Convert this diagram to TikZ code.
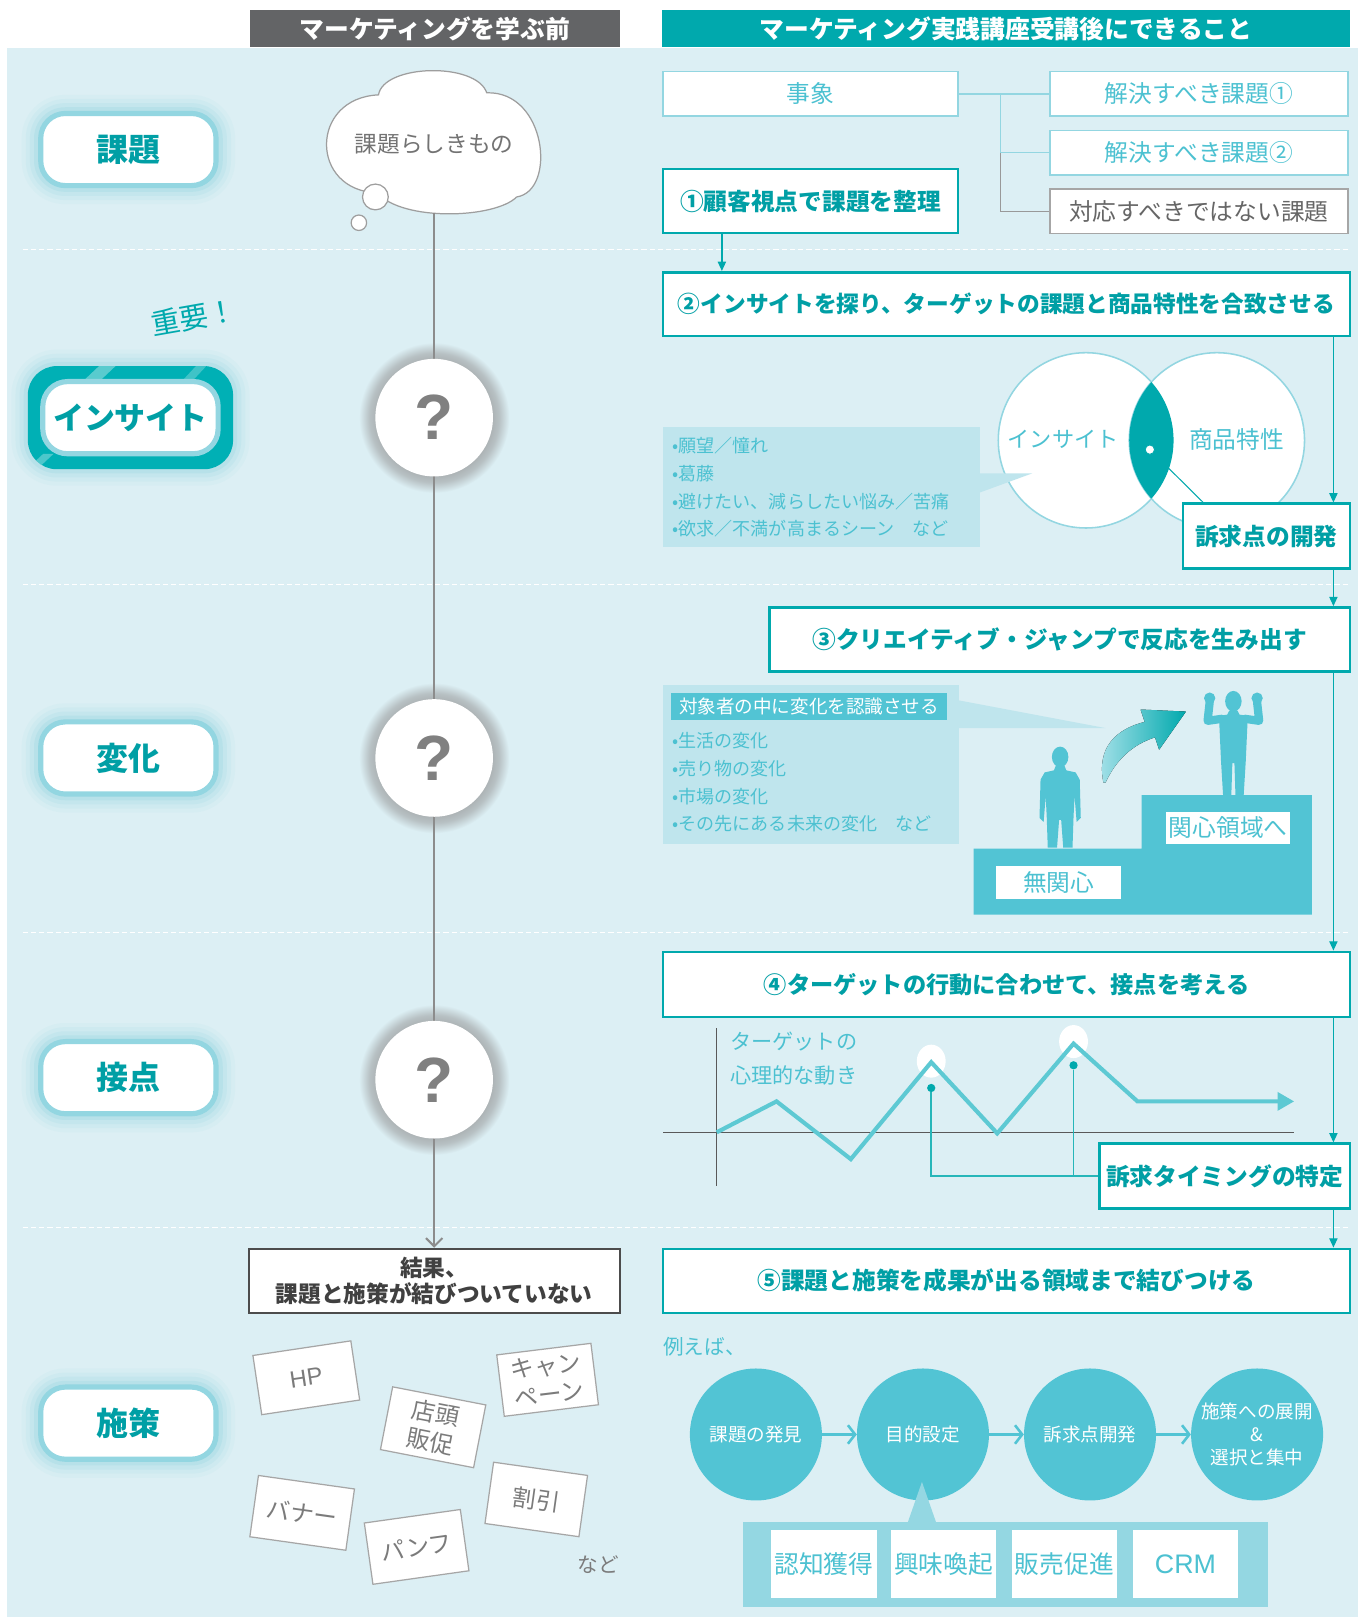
\documentclass[tikz,border=0pt]{standalone}
\usepackage{fontspec}
\setmainfont{Noto Sans CJK JP}
\newfontfamily\latinfont{Liberation Sans}
\usetikzlibrary{arrows.meta,calc}

\definecolor{mkbg}{HTML}{DCEFF4}
\definecolor{mkteal}{HTML}{00A9AD}
\definecolor{mkframe}{HTML}{00B0B5}
\definecolor{mktealtxt}{HTML}{009FA5}
\definecolor{mkcyan}{HTML}{52C4D4}
\definecolor{mkcyantxt}{HTML}{4CC1D1}
\definecolor{mkzig}{HTML}{5DC9D3}
\definecolor{mkline}{HTML}{93D6E1}
\definecolor{mkinfo}{HTML}{BFE5ED}
\definecolor{mkpanel}{HTML}{94D7E2}
\definecolor{mkdark}{HTML}{636466}
\definecolor{mkgray}{HTML}{7B7B7B}
\definecolor{mkring}{HTML}{ABB1B3}
\definecolor{mkglow}{HTML}{6FCBD8}

\newcommand\fsz[2]{\fontsize{#1}{#2}\selectfont}

% soft ring around the question marks
\pgfdeclareradialshading{qring}{\pgfpoint{0bp}{0bp}}{%
  color(0bp)=(mkring); color(19bp)=(mkring); color(21.5bp)=(mkring!75!mkbg);
  color(25bp)=(mkbg); color(50bp)=(mkbg)}

% halo behind the rounded labels of the left column
\newcommand\glowrect[5]{%
  \foreach \g/\o in {16/0.05,12/0.07,8/0.1,4/0.15}{%
    \pgfmathsetmacro\rr{#5+\g}%
    \fill[mkglow, opacity=\o, rounded corners=\rr pt] (#1-\g,#2-\g) rectangle (#3+\g,#4+\g);
  }}

\begin{document}
\begin{tikzpicture}[x=1pt,y=-1pt,
  hdr/.style={minimum height=36pt, inner sep=0pt, text=white, font=\bfseries\fsz{24}{28}},
  labelbox/.style={draw=mkline, line width=5pt, fill=white, rounded corners=24pt,
    minimum width=170pt, minimum height=70pt, inner sep=0pt, text=mktealtxt, font=\bfseries\fsz{31}{36}},
  stepbox/.style={draw=mkteal, line width=2.5pt, fill=white, inner sep=0pt,
    text=mktealtxt, font=\bfseries\fsz{23}{27}},
  litebox/.style={draw=mkline, line width=1.5pt, fill=white, inner sep=0pt,
    minimum height=43pt, text=mkcyantxt, font=\fsz{23}{27}},
  card/.style={draw=black!35, line width=1.2pt, fill=white, inner sep=0pt,
    text=mkgray, font=\fsz{23}{28}, align=center},
  qnode/.style={circle, fill=white, minimum size=114pt, inner sep=0pt,
    text=black!50, font=\latinfont\bfseries\fsz{62}{62}},
  flow/.style={draw=mkteal, line width=1.2pt, -{Triangle[length=9pt,width=8pt]}},
  bulletline/.style={anchor=west, inner sep=0pt, text=mkcyantxt, font=\fsz{17.5}{20}},
  stepcircle/.style={circle, fill=mkcyan, minimum size=128pt, inner sep=0pt,
    text=white, font=\fsz{18}{22}, align=center},
  chip/.style={fill=white, minimum width=102pt, minimum height=66pt, inner sep=0pt,
    text=mkcyantxt, font=\fsz{24}{28}},
  carrow/.style={draw=mkcyan, line width=2.5pt, -{Straight Barb[length=7pt,width=18pt]}},
  stairlabel/.style={fill=white, inner sep=0pt, text=mkcyantxt, font=\fsz{23}{27}},
]
\useasboundingbox (0,0) rectangle (1317,1568);
\fill[white] (0,0) rectangle (1317,1568);
\fill[mkbg] (7,47) rectangle (1317,1568);

% row separators
\foreach \y in {242,567,904,1190}
  \draw[white, line width=1.3pt, dash pattern=on 5pt off 3pt] (22,\y) -- (1309,\y);

% column headers
\node[hdr, fill=mkdark, minimum width=359pt] (hL) at (421.5,28) {マーケティングを学ぶ前};
\node[hdr, fill=mkteal, minimum width=667pt] (hR) at (975.5,28) {マーケティング実践講座受講後にできること};

% ---------- left column labels ----------
\glowrect{37}{108}{212}{182}{26}
\node[labelbox] (lkadai) at (124.5,145) {課題};

\glowrect{27}{355}{226}{455}{28}
\node[fill=mkframe, rounded corners=28pt, minimum width=199pt, minimum height=100pt, inner sep=0pt] (insframe) at (126.5,405) {};
\begin{scope}
  \clip[rounded corners=28pt] (27,355) rectangle (226,455);
  \fill[white, opacity=0.35] (96,355) -- (112,355) -- (94,372) -- (78,372) -- cycle;
  \fill[white, opacity=0.3] (42,440) -- (52,440) -- (36,455) -- (26,455) -- cycle;
  \fill[white, opacity=0.25] (190,355) -- (200,355) -- (186,370) -- (176,370) -- cycle;
\end{scope}
\node[labelbox, font=\bfseries\fsz{30}{34}] (linsight) at (126.5,405) {インサイト};
\node[rotate=10, text=mkteal, font=\fsz{28}{30}] (juyo) at (188,308) {重要！};

\glowrect{37}{698}{212}{772}{26}
\node[labelbox] (lhenka) at (124.5,735) {変化};
\glowrect{37}{1008}{212}{1082}{26}
\node[labelbox] (lsetten) at (124.5,1045) {接点};
\glowrect{37}{1343}{212}{1417}{26}
\node[labelbox] (lshisaku) at (124.5,1380) {施策};

% ---------- "before" column ----------
\foreach \y in {405,735,1047}
  \shade[shading=qring] (421,\y) circle[radius=73pt];

% thought cloud
\filldraw[draw=black!38, line width=1.2pt, fill=white]
  (367,92) .. controls (372,62) and (462,60) .. (472,90)
  .. controls (530,88) and (540,185) .. (501,191)
  .. controls (480,212) and (390,215) .. (366,187)
  .. controls (300,185) and (300,95) .. (367,92) -- cycle;
\node[text=black!55, font=\fsz{22}{26}, inner sep=0pt] (cloudtxt) at (421,140) {課題らしきもの};
\node[circle, draw=black!38, line width=1.2pt, fill=white, minimum size=25pt, inner sep=0pt] (tb1) at (364,191) {};
\node[circle, draw=black!38, line width=1.2pt, fill=white, minimum size=15pt, inner sep=0pt] (tb2) at (348,216) {};
\coordinate (cloudbot) at (421,207);

\node[draw=black!70, line width=2pt, fill=white, minimum width=360pt, minimum height=62pt,
  inner sep=0pt, align=center, text=black!75, font=\bfseries\fsz{22}{25}] (result) at (421,1242)
  {結果、\\課題と施策が結びついていない};

\draw[black!45, line width=2pt, -{Straight Barb[length=8pt,width=16pt]}]
  (cloudbot) -- (result.north);

\node[qnode] (q1) at (421,405) {?};
\node[qnode] (q2) at (421,735) {?};
\node[qnode] (q3) at (421,1047) {?};

% scattered measures
\node[card, minimum width=96pt, minimum height=58pt, rotate=8.5] (cHP) at (297,1336) {\latinfont HP};
\node[card, minimum width=92pt, minimum height=62pt, rotate=-11] (cTen) at (420,1384) {店頭\\販促};
\node[card, minimum width=92pt, minimum height=60pt, rotate=7] (cCamp) at (531,1338) {キャン\\ペーン};
\node[card, minimum width=94pt, minimum height=60pt, rotate=-8] (cBan) at (293,1467) {バナー};
\node[card, minimum width=94pt, minimum height=60pt, rotate=8] (cPan) at (404,1500) {パンフ};
\node[card, minimum width=92pt, minimum height=60pt, rotate=-8] (cWari) at (520,1454) {割引};
\node[text=mkgray, font=\fsz{20}{24}, inner sep=0pt] (nado1) at (580,1517) {など};

% ---------- "after" column ----------
% step 1
\node[litebox, minimum width=286pt] (jisho) at (786,91) {事象};
\node[litebox, minimum width=289pt] (k1) at (1162.5,91) {解決すべき課題①};
\node[litebox, minimum width=289pt] (k2) at (1162.5,148) {解決すべき課題②};
\node[litebox, draw=black!35, text=black!60, minimum width=289pt] (k3) at (1162.5,205) {対応すべきではない課題};
\coordinate (br) at (970,91);
\draw[mkline, line width=1.3pt] (jisho.east) -- (k1.west);
\draw[mkline, line width=1.3pt] (br) |- (k2.west);
\draw[black!40, line width=1.3pt] (br |- k2.west) |- (k3.west);

\node[stepbox, minimum width=286pt, minimum height=62pt] (s1) at (786,195) {①顧客視点で課題を整理};
\node[stepbox, minimum width=666pt, minimum height=62pt, font=\bfseries\fsz{22}{26}] (s2) at (976,295)
  {②インサイトを探り、ターゲットの課題と商品特性を合致させる};
\coordinate (xa) at (700,0);
\draw[flow] (s1.south -| xa) -- (s2.north -| xa);

% step 2: insight x product
\node[circle, draw=mkline, line width=1.5pt, fill=white, minimum size=170pt, inner sep=0pt] (vL) at (1053,427) {};
\node[circle, draw=mkline, line width=1.5pt, fill=white, minimum size=170pt, inner sep=0pt] (vR) at (1180,427) {};
\begin{scope}
  \clip (vL.center) circle[radius=85pt];
  \fill[mkteal] (vR.center) circle[radius=85pt];
\end{scope}
\node[text=mkcyantxt, font=\fsz{21.5}{26}, inner sep=0pt] (tins) at (1031,426) {インサイト};
\node[text=mkcyantxt, font=\fsz{23}{27}, inner sep=0pt] (tsho) at (1199,426) {商品特性};

\fill[mkinfo] (643,414) rectangle (950,530);
\fill[mkinfo] (949,459) -- (1001,459) -- (949,478) -- cycle;
\node[bulletline] (b11) at (652,432) {•願望／憧れ};
\node[bulletline] (b12) at (652,459) {•葛藤};
\node[bulletline] (b13) at (652,486) {•避けたい、減らしたい悩み／苦痛};
\node[bulletline] (b14) at (652,513) {•欲求／不満が高まるシーン　など};

\node[stepbox, minimum width=162pt, minimum height=63pt] (appeal) at (1228,520) {訴求点の開発};
\node[circle, fill=white, draw=mkteal, line width=0.8pt, minimum size=9pt, inner sep=0pt] (vdot) at (1115,436) {};
\draw[mkteal, line width=1pt] (vdot) -- ($(appeal.north west)+(21,0)$);

% step 3: creative jump
\node[stepbox, minimum width=563pt, minimum height=62pt] (s3) at (1027.5,620)
  {③クリエイティブ・ジャンプで反応を生み出す};

\fill[mkinfo] (643,664) rectangle (930,818);
\fill[mkinfo] (929,679) -- (1072,706) -- (929,706) -- cycle;
\node[fill=mkcyan, text=white, font=\fsz{18}{22}, minimum width=267pt, minimum height=26pt, inner sep=0pt]
  (i2h) at (784.5,685) {対象者の中に変化を認識させる};
\node[bulletline] (b21) at (652,718) {•生活の変化};
\node[bulletline] (b22) at (652,745) {•売り物の変化};
\node[bulletline] (b23) at (652,772) {•市場の変化};
\node[bulletline] (b24) at (652,799) {•その先にある未来の変化　など};

\fill[mkcyan] (944,887) -- (944,823) -- (1107,823) -- (1107,771) -- (1272,771) -- (1272,887) -- cycle;
\node[stairlabel, minimum width=121pt, minimum height=32pt] (mukan) at (1026.5,856) {無関心};
\node[stairlabel, minimum width=120pt, minimum height=31pt] (kanshin) at (1191,802.5) {関心領域へ};

% standing figure
\fill[mkcyan] (1028,734) ellipse[x radius=8pt, y radius=10pt];
\fill[mkcyan] (1024,742) -- (1032,742) -- (1034,747) -- (1043,749) -- (1047,756) -- (1048,793)
  -- (1044,797) -- (1042,772) -- (1041,792) -- (1040,822) -- (1031,822) -- (1029,795) -- (1027,795)
  -- (1025,822) -- (1016,822) -- (1015,792) -- (1014,772) -- (1012,797) -- (1008,793) -- (1009,756)
  -- (1013,749) -- (1022,747) -- cycle;
% cheering figure
\fill[mkcyan] (1196,680) ellipse[x radius=8pt, y radius=10pt];
\fill[mkcyan] (1192,689) -- (1200,689) -- (1202,693) -- (1210,694) -- (1208,738) -- (1206,771)
  -- (1198,771) -- (1197,740) -- (1195,740) -- (1194,771) -- (1186,771) -- (1184,738) -- (1182,694)
  -- (1190,693) -- cycle;
\draw[mkcyan, line width=8pt, line cap=round, line join=round] (1185,697) -- (1171,699) -- (1173,681);
\draw[mkcyan, line width=8pt, line cap=round, line join=round] (1207,697) -- (1221,699) -- (1219,681);
\fill[mkcyan] (1173,677) circle[radius=5.5pt];
\fill[mkcyan] (1219,677) circle[radius=5.5pt];
% jump arrow
\fill[left color=mkcyan!50!white, right color=mkteal]
  (1070,759) .. controls (1063,725) and (1082,707) .. (1110,700) -- (1106,688) -- (1150,690)
  -- (1124,727) -- (1120,715) .. controls (1098,722) and (1082,737) .. (1072,759) -- cycle;

% step 4: touch points
\node[stepbox, minimum width=666pt, minimum height=63pt, font=\bfseries\fsz{22.5}{26}] (s4) at (976,954.5)
  {④ターゲットの行動に合わせて、接点を考える};
\node[stepbox, minimum width=243pt, minimum height=63pt] (timing) at (1187.5,1140.5) {訴求タイミングの特定};

\draw[black!65, line width=1pt] (695,997) -- (695,1150);
\draw[black!65, line width=1pt] (643,1098) -- (1255,1098);
\fill[white] (903,1029) ellipse[x radius=14pt, y radius=16pt];
\fill[white] (1041,1010) ellipse[x radius=14pt, y radius=16pt];
\draw[mkzig, line width=4pt, -{Triangle[length=16pt,width=17pt]}]
  (695,1098) -- (753,1068) -- (825,1124) -- (903,1030) -- (967,1099) -- (1041,1012)
  -- (1103,1068) -- (1255,1068);
\node[anchor=west, inner sep=0pt, text=mkcyantxt, font=\fsz{20.5}{25}] (psy1) at (708,1010) {ターゲットの};
\node[anchor=west, inner sep=0pt, text=mkcyantxt, font=\fsz{20.5}{25}] (psy2) at (708,1043) {心理的な動き};
\node[circle, fill=mkteal, minimum size=8pt, inner sep=0pt] (d1) at (903,1055) {};
\node[circle, fill=mkteal, minimum size=8pt, inner sep=0pt] (d2) at (1041,1033) {};
\draw[mkteal!85, line width=1.5pt] (d1) |- (timing.west);
\draw[mkteal!85, line width=1.5pt] (d2) -- (d2 |- timing.west);

% step 5
\node[stepbox, minimum width=666pt, minimum height=62pt] (s5) at (976,1242)
  {⑤課題と施策を成果が出る領域まで結びつける};
\node[anchor=west, inner sep=0pt, text=mkcyantxt, font=\fsz{20}{24}] (reeba) at (643,1306) {例えば、};

\node[stepcircle] (c1) at (733,1391) {課題の発見};
\node[stepcircle] (c2) at (895,1391) {目的設定};
\node[stepcircle] (c3) at (1057,1391) {訴求点開発};
\node[stepcircle] (c4) at (1219,1391) {施策への展開\\\&\\選択と集中};
\draw[carrow] (c1) -- (c2);
\draw[carrow] (c2) -- (c3);
\draw[carrow] (c3) -- (c4);

\fill[mkpanel] (720,1476) rectangle (1230,1558);
\fill[mkpanel] (880,1477) -- (908,1477) -- (894,1437) -- cycle;
\node[chip] (g1) at (799,1517) {認知獲得};
\node[chip] (g2) at (915,1517) {興味喚起};
\node[chip] (g3) at (1032,1517) {販売促進};
\node[chip, font=\latinfont\fsz{26}{30}] (g4) at (1149.5,1517) {CRM};

% main flow on the right edge
\coordinate (xr) at (1293,0);
\draw[flow] (s2.south -| xr) -- (appeal.north -| xr);
\draw[flow] (appeal.south -| xr) -- (s3.north -| xr);
\draw[flow] (s3.south -| xr) -- (s4.north -| xr);
\draw[flow] (s4.south -| xr) -- (timing.north -| xr);
\draw[flow] (timing.south -| xr) -- (s5.north -| xr);
\end{tikzpicture}
\end{document}
